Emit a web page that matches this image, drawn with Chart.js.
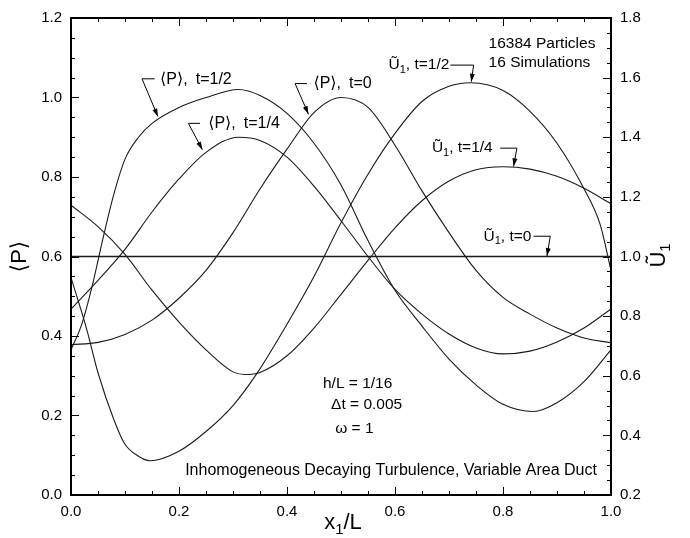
<!DOCTYPE html>
<html>
<head>
<meta charset="utf-8">
<script src="https://cdn.jsdelivr.net/npm/chart.js@4.4.1/dist/chart.umd.min.js"></script>
<style>
html, body { margin: 0; padding: 0; background: #fff; }
#wrap { width: 690px; height: 538px; }
</style>
</head>
<body>
<div id="wrap"><canvas id="c" width="690" height="538"></canvas></div>
<script>
'use strict';

// <P> (left axis)
const pT0X = [0, 0.05, 0.1, 0.15, 0.2, 0.25, 0.3, 0.35, 0.4, 0.45, 0.5, 0.55, 0.6, 0.65, 0.7, 0.75, 0.8, 0.85, 0.9, 0.95, 1.0];
const pT0 = [0.378, 0.384, 0.404, 0.44, 0.495, 0.565, 0.66, 0.77, 0.87, 0.962, 1.0, 0.975, 0.88, 0.765, 0.66, 0.565, 0.497, 0.455, 0.42, 0.395, 0.383];
const pT14X = [0, 0.05, 0.1, 0.15, 0.2, 0.25, 0.31, 0.35, 0.4, 0.45, 0.5, 0.55, 0.6, 0.65, 0.7, 0.75, 0.8, 0.85, 0.9, 0.95, 1.0];
const pT14 = [0.468, 0.54, 0.618, 0.712, 0.795, 0.862, 0.90, 0.892, 0.85, 0.777, 0.69, 0.60, 0.517, 0.455, 0.405, 0.37, 0.355, 0.362, 0.385, 0.42, 0.468];
const pT12X = [0, 0.02, 0.04, 0.06, 0.08, 0.1, 0.125, 0.15, 0.2, 0.25, 0.31, 0.35, 0.4, 0.45, 0.5, 0.55, 0.6, 0.65, 0.7, 0.75, 0.8, 0.856, 0.9, 0.95, 1.0];
const pT12 = [0.365, 0.43, 0.53, 0.65, 0.76, 0.845, 0.90, 0.935, 0.975, 1.0, 1.02, 1.005, 0.96, 0.885, 0.78, 0.64, 0.515, 0.425, 0.342, 0.277, 0.228, 0.21, 0.232, 0.285, 0.365];

// U1 tilde (right axis)
const uT0X = [0, 1];
const uT0 = [1.0, 1.0];
const uT14X = [0, 0.05, 0.1, 0.15, 0.2, 0.25, 0.3, 0.322, 0.35, 0.4, 0.45, 0.5, 0.55, 0.6, 0.65, 0.7, 0.75, 0.8, 0.85, 0.9, 0.95, 1.0];
const uT14 = [1.172, 1.10, 1.007, 0.887, 0.78, 0.687, 0.613, 0.604, 0.611, 0.667, 0.76, 0.873, 0.987, 1.096, 1.187, 1.253, 1.291, 1.301, 1.293, 1.269, 1.229, 1.177];
const uT12X = [0, 0.03, 0.05, 0.08, 0.1, 0.125, 0.146, 0.2, 0.25, 0.3, 0.344, 0.4, 0.45, 0.5, 0.55, 0.6, 0.65, 0.7, 0.74, 0.8, 0.85, 0.9, 0.95, 0.98, 1.0];
const uT12 = [0.93, 0.75, 0.61, 0.45, 0.37, 0.33, 0.315, 0.347, 0.413, 0.50, 0.607, 0.773, 0.933, 1.113, 1.276, 1.413, 1.52, 1.571, 1.583, 1.557, 1.487, 1.38, 1.227, 1.107, 0.953];

const xTicks = [0, 0.2, 0.4, 0.6, 0.8, 1.0];
const leftTicks = [0, 0.2, 0.4, 0.6, 0.8, 1.0, 1.2];
const rightTicks = [0.2, 0.4, 0.6, 0.8, 1.0, 1.2, 1.4, 1.6, 1.8];

const FONT = '"Liberation Sans", "DejaVu Sans", Arial, sans-serif';

// curve labels: text, text pos, leader polyline (arrow at the end), all in x / left-axis units
const notes = [
    { t: '\u27E8P\u27E9,\u2002t=1/2', x: 0.165, y: 1.045, s: 16, al: 'left', path: [[0.155, 1.047], [0.1315, 1.047], [0.161, 0.952]] },
    { t: '\u27E8P\u27E9,\u2002t=1/4', x: 0.254, y: 0.935, s: 16, al: 'left', path: [[0.239, 0.935], [0.2174, 0.935], [0.2433, 0.8686]] },
    { t: '\u27E8P\u27E9,\u2002t=0', x: 0.449, y: 1.035, s: 16, al: 'left', path: [[0.437, 1.035], [0.415, 1.035], [0.4397, 0.958]] },
    { t: '\u0168_1, t=1/2', x: 0.588, y: 1.0815, al: 'left', path: [[0.7024, 1.0815], [0.7456, 1.0815], [0.7413, 1.0397]] },
    { t: '\u0168_1, t=1/4', x: 0.6683, y: 0.8726, al: 'left', path: [[0.7949, 0.8726], [0.8258, 0.8726], [0.8195, 0.8267]] },
    { t: '\u0168_1, t=0', x: 0.764, y: 0.651, al: 'left', path: [[0.8566, 0.651], [0.8876, 0.651], [0.8814, 0.601]] },
    { t: '16384 Particles', x: 0.7733, y: 1.1356, al: 'left' },
    { t: '16 Simulations', x: 0.7733, y: 1.0873, al: 'left' },
    { t: 'h/L = 1/16', x: 0.4666, y: 0.2806, al: 'left' },
    { t: '\u0394t = 0.005', x: 0.4817, y: 0.2262, al: 'left' },
    { t: '\u03C9 = 1', x: 0.4892, y: 0.1678, al: 'left' },
    { t: 'Inhomogeneous Decaying Turbulence, Variable Area Duct', x: 0.974, y: 0.0626, s: 16, al: 'right' }
];

function zip(xs, ys) {
    return xs.map((v, i) => ({ x: v, y: ys[i] }));
}
function parts(s) {
    // "_c" marks a one character subscript
    const out = [];
    let buf = '';
    for (let i = 0; i < s.length; ++i) {
        if (s[i] === '_') {
            if (buf) out.push({ t: buf });
            out.push({ t: s[i + 1], sub: true });
            buf = '';
            ++i;
        } else buf += s[i];
    }
    if (buf) out.push({ t: buf });
    return out;
}
function drawRich(ctx, s, x, y, size, align) {
    const big = `${size}px ${FONT}`, small = `${Math.round(size * 0.68)}px ${FONT}`;
    const ps = parts(s);
    let w = 0;
    ps.forEach((p) => { ctx.font = p.sub ? small : big; w += ctx.measureText(p.t).width; });
    let cx = align === 'right' ? x - w : align === 'center' ? x - w / 2 : x;
    ctx.textAlign = 'left';
    ctx.textBaseline = 'middle';
    ps.forEach((p) => {
        ctx.font = p.sub ? small : big;
        ctx.fillText(p.t, cx, p.sub ? y + size * 0.3 : y);
        cx += ctx.measureText(p.t).width;
    });
}

const decor = {
    id: 'decor',
    afterDraw(chart) {
        const { ctx, chartArea: a, scales: { x, y, y2 } } = chart;
        ctx.save();
        ctx.strokeStyle = '#000';
        ctx.fillStyle = '#000';

        // inward ticks, minor every 0.05
        ctx.lineWidth = 1;
        ctx.beginPath();
        const tick = (axis, lo, hi, fn) => {
            for (let i = Math.round(lo * 20); i <= Math.round(hi * 20); ++i)
                fn(Math.round(axis.getPixelForValue(i / 20)) + 0.5, i % 4 === 0 ? 8 : 4);
        };
        tick(x, 0, 1, (p, l) => {
            ctx.moveTo(p, a.bottom); ctx.lineTo(p, a.bottom - l);
            ctx.moveTo(p, a.top); ctx.lineTo(p, a.top + l);
        });
        tick(y, 0, 1.2, (p, l) => { ctx.moveTo(a.left, p); ctx.lineTo(a.left + l, p); });
        tick(y2, 0.2, 1.8, (p, l) => { ctx.moveTo(a.right, p); ctx.lineTo(a.right - l, p); });
        ctx.stroke();

        // frame
        ctx.lineWidth = 2;
        ctx.strokeRect(a.left, a.top, a.right - a.left, a.bottom - a.top);

        // labels and leaders
        notes.forEach((n) => {
            drawRich(ctx, n.t, x.getPixelForValue(n.x), y.getPixelForValue(n.y), n.s || 15.5, n.al);
            if (!n.path) return;
            const pts = n.path.map((p) => [x.getPixelForValue(p[0]), y.getPixelForValue(p[1])]);
            ctx.lineWidth = 1;
            ctx.beginPath();
            pts.forEach((p, i) => (i ? ctx.lineTo(p[0], p[1]) : ctx.moveTo(p[0], p[1])));
            ctx.stroke();
            const [px, py] = pts[pts.length - 2], [tx, ty] = pts[pts.length - 1];
            const ang = Math.atan2(ty - py, tx - px);
            ctx.beginPath();
            ctx.moveTo(tx, ty);
            ctx.lineTo(tx - 8 * Math.cos(ang) + 2.5 * Math.sin(ang), ty - 8 * Math.sin(ang) - 2.5 * Math.cos(ang));
            ctx.lineTo(tx - 8 * Math.cos(ang) - 2.5 * Math.sin(ang), ty - 8 * Math.sin(ang) + 2.5 * Math.cos(ang));
            ctx.closePath();
            ctx.fill();
        });

        // axis titles
        const midY = (a.top + a.bottom) / 2;
        ctx.save();
        ctx.translate(20, midY);
        ctx.rotate(-Math.PI / 2);
        drawRich(ctx, '\u27E8P\u27E9', 0, 0, 22, 'center');
        ctx.restore();
        ctx.save();
        ctx.translate(659, midY - 1);
        ctx.rotate(-Math.PI / 2);
        drawRich(ctx, '\u0168_1', 0, 0, 22, 'center');
        ctx.restore();
        drawRich(ctx, 'x_1/L', (a.left + a.right) / 2 + 2, 523, 22, 'center');
        ctx.restore();
    }
};

const line = (data, axis, w) => ({
    data: data,
    yAxisID: axis,
    showLine: true,
    borderColor: '#1a1a1a',
    borderWidth: w || 1.1,
    pointRadius: 0,
    cubicInterpolationMode: 'monotone',
    fill: false
});

const tickFont = { family: FONT, size: 15 };
const fmt = (v) => Number(v).toFixed(1);

new Chart(document.getElementById('c'), {
    type: 'scatter',
    data: {
        datasets: [
            line(zip(pT0X, pT0), 'y'),
            line(zip(pT14X, pT14), 'y'),
            line(zip(pT12X, pT12), 'y'),
            line(zip(uT0X, uT0), 'y2', 1.6),
            line(zip(uT14X, uT14), 'y2'),
            line(zip(uT12X, uT12), 'y2')
        ]
    },
    options: {
        responsive: false,
        animation: false,
        devicePixelRatio: 1,
        layout: { padding: { top: 16, left: 0, right: 0, bottom: 0 } },
        plugins: { legend: { display: false }, tooltip: { enabled: false } },
        scales: {
            x: {
                type: 'linear', position: 'bottom', min: 0, max: 1,
                afterBuildTicks: (s) => { s.ticks = xTicks.map((v) => ({ value: v })); },
                afterFit: (s) => { s.height = 43; },
                grid: { display: false, drawTicks: false },
                border: { display: false },
                ticks: { font: tickFont, color: '#000', padding: 8, maxRotation: 0, callback: fmt }
            },
            y: {
                type: 'linear', position: 'left', min: 0, max: 1.2,
                afterBuildTicks: (s) => { s.ticks = leftTicks.map((v) => ({ value: v })); },
                afterFit: (s) => { s.width = 71; },
                grid: { display: false, drawTicks: false },
                border: { display: false },
                ticks: { font: tickFont, color: '#000', padding: 9, callback: fmt }
            },
            y2: {
                type: 'linear', position: 'right', min: 0.2, max: 1.8,
                afterBuildTicks: (s) => { s.ticks = rightTicks.map((v) => ({ value: v })); },
                afterFit: (s) => { s.width = 79; },
                grid: { display: false, drawTicks: false },
                border: { display: false },
                ticks: { font: tickFont, color: '#000', padding: 9, callback: fmt }
            }
        }
    },
    plugins: [decor]
});
</script>
</body>
</html>
